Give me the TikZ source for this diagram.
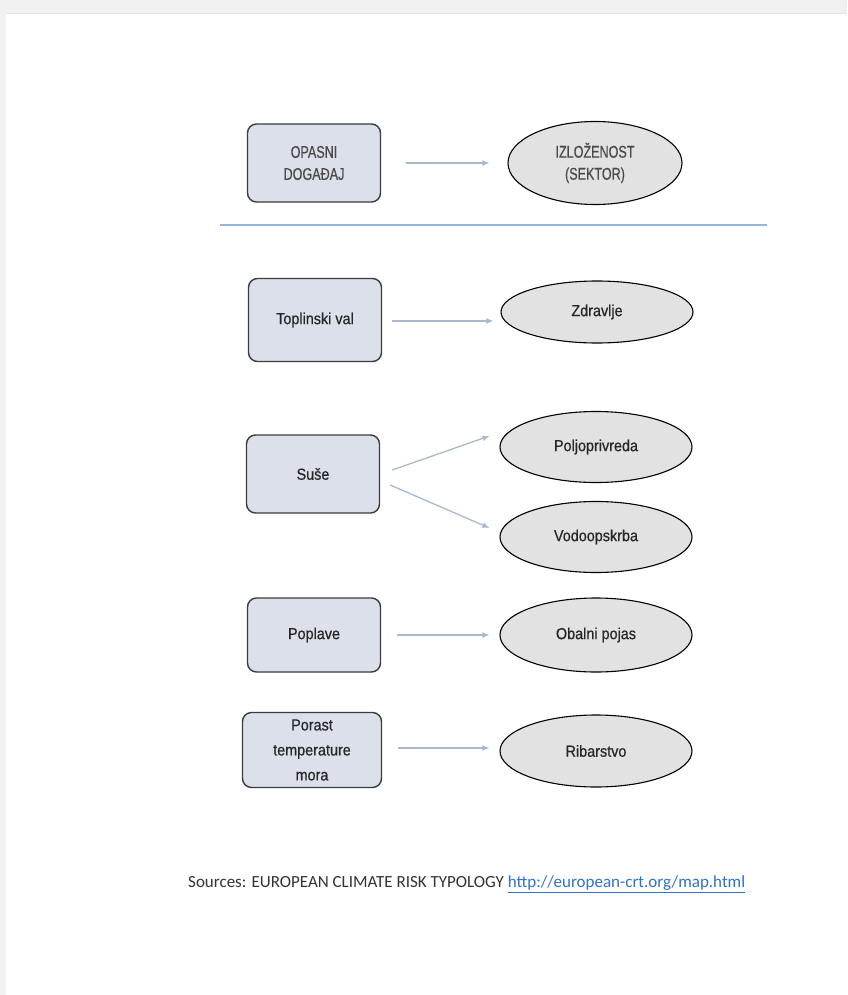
\documentclass[tikz,border=0pt]{standalone}
\usepackage{fontspec}
\setmainfont{Liberation Sans}
\newfontfamily\narrowfont[FakeStretch=0.9,FakeBold=0.6]{Liberation Sans}
\newfontfamily\headfont[FakeStretch=0.74,FakeBold=0.3]{Liberation Sans}
\newfontfamily\srcfont{Carlito}
\usetikzlibrary{arrows.meta,calc,shapes.geometric}
\definecolor{boxfill}{HTML}{DCE0EB}
\definecolor{boxline}{HTML}{3C3C3C}
\definecolor{ellfill}{HTML}{E2E2E2}
\definecolor{arrowcol}{HTML}{A9B9D1}
\definecolor{rulecol}{HTML}{97B4DE}
\definecolor{labeltext}{HTML}{262626}
\definecolor{headtext}{HTML}{484848}
\definecolor{linkblue}{HTML}{2F72CC}

\begin{document}
\begin{tikzpicture}[x=1pt,y=-1pt,
    hazard/.style={draw=boxline,fill=boxfill,line width=1.4pt,rounded corners=9pt,
      minimum width=133pt,minimum height=78pt,inner sep=2pt,align=center,
      font=\narrowfont\fontsize{16}{25}\selectfont,text=labeltext},
    sector/.style={ellipse,draw=black,fill=ellfill,line width=1.1pt,
      minimum width=192pt,minimum height=71pt,inner sep=0pt,align=center,
      font=\narrowfont\fontsize{16}{22}\selectfont,text=labeltext},
    head/.style={font=\headfont\fontsize{17}{22}\selectfont,text=headtext},
    link/.style={draw=arrowcol,line width=1.3pt,-{Latex[length=7pt,width=6pt]}}]
	%%%%% START %%%%%
	\useasboundingbox (0,0) rectangle (847,995);
	\fill[white] (0,0) rectangle (847,995);
	\fill[black!6] (0,0) rectangle (847,13);
	\fill[black!5] (0,13) rectangle (6,995);
	\draw[black!10, line width=1pt] (6,13.5) -- (847,13.5);
	
	% header row
	\node[hazard, head] (opasni) at (314,163) {OPASNI\\DOGAĐAJ};
	\node[sector, head, minimum width=174pt, minimum height=83pt] (izlozenost) at (595,163) {IZLOŽENOST\\(SEKTOR)};
	\draw[link, shorten <=25pt, shorten >=18pt] (opasni.east) -- (izlozenost.west);
	
	\draw[rulecol, line width=1.3pt] (220,225) -- (767,225);
	
	% hazards
	\node[hazard, minimum height=83pt] (toplinski) at (315,320) {Toplinski val};
	\node[hazard] (suse) at (313,474) {Suše};
	\node[hazard, minimum height=74pt] (poplave) at (314,635) {Poplave};
	\node[hazard, minimum width=139pt, minimum height=75pt] (porast) at (312,750) {Porast\\temperature\\mora};
	
	% sectors
	\node[sector, minimum height=62pt] (zdravlje) at (597,312) {Zdravlje};
	\node[sector] (polj) at (596,447) {Poljoprivreda};
	\node[sector] (vodo) at (596,537) {Vodoopskrba};
	\node[sector, minimum height=74pt] (obala) at (596,635) {Obalni pojas};
	\node[sector, minimum height=72pt] (ribe) at (596,751) {Ribarstvo};
	
	\draw[link] ($(toplinski.east)+(10,1)$) -- ($(zdravlje.west)+(-7,9)$);
	\draw[link] ($(suse.east)+(12,-4)$) -- ($(polj.west)+(-10,-11)$);
	\draw[link] ($(suse.east)+(10,11)$) -- ($(vodo.west)+(-10,-9)$);
	\draw[link, shorten <=16pt, shorten >=10pt] (poplave.east) -- (obala.west);
	\draw[link] ($(porast.east)+(16,-2)$) -- ($(ribe.west)+(-10,-3)$);
	
	\node[anchor=west, font=\srcfont\fontsize{17}{20}\selectfont, text=black!80, inner sep=0pt] (sources) at (188,884)
	  {Sources: EUROPEAN CLIMATE RISK TYPOLOGY \textcolor{linkblue}{\underline{http://european-crt.org/map.html}}};
	%%%%% END %%%%%
\end{tikzpicture}
\end{document}
